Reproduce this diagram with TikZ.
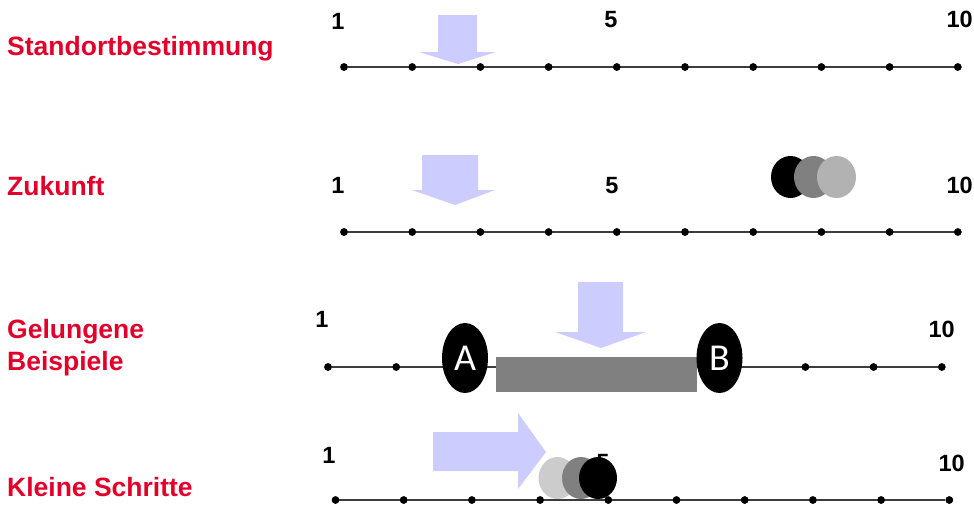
\documentclass[tikz,border=0pt]{standalone}
\usepackage{fontspec}
\setmainfont{Liberation Sans}
\newfontfamily\abfont{Carlito}
\usetikzlibrary{shapes.geometric}
\definecolor{lblred}{RGB}{226,0,43}
\definecolor{arrowblue}{RGB}{204,204,255}
\definecolor{axisgray}{RGB}{60,60,60}
\definecolor{midgray}{RGB}{128,128,128}
\definecolor{ltgray}{RGB}{178,178,178}
\definecolor{vltgray}{RGB}{204,204,204}
\tikzset{
  rowlabel/.style={anchor=base west, inner sep=0pt, text=lblred, font=\fontsize{26.5}{32}\selectfont\bfseries, align=left},
  num/.style={anchor=base, inner sep=0pt, font=\fontsize{23.5}{27}\selectfont\bfseries},
  numr/.style={num, anchor=base east},
  dot/.style={circle, fill=black, inner sep=0pt, minimum size=7.5pt},
  axis/.style={draw=axisgray, line width=1.4pt},
  bigarrow/.style={fill=arrowblue, draw=none},
  disc/.style={ellipse, inner sep=0pt, draw=none, minimum width=39pt, minimum height=42pt},
  ab/.style={ellipse, fill=black, inner sep=0pt, minimum width=46pt, minimum height=70pt, text=white, font=\abfont\fontsize{38}{40}\selectfont},
}
\begin{document}
\begin{tikzpicture}[x=1pt,y=-1pt]
\useasboundingbox (0,0) rectangle (974,509);

% ---------- Row 1 ----------
\node[rowlabel] (l1) at (7,55) {Standortbestimmung};
\node[num] (n1a) at (338,29) {1};
\node[num] (n1b) at (611,27) {5};
\node[numr] (n1c) at (973,27) {10};
\foreach \i in {0,...,9} \node[dot] (r1d\i) at ({344+68.2*\i},67) {};
\draw[axis] (r1d0) -- (r1d9);
\foreach \i in {0,...,9} \node[dot] at (r1d\i) {};
\fill[bigarrow] (438,15) -- (477,15) -- (477,52) -- (496,52) -- (458,64) -- (419,52) -- (438,52) -- cycle;

% ---------- Row 2 ----------
\node[rowlabel] (l2) at (7,195) {Zukunft};
\node[num] (n2a) at (338,193) {1};
\node[num] (n2b) at (612,193) {5};
\node[numr] (n2c) at (973,193) {10};
\foreach \i in {0,...,9} \node[dot] (r2d\i) at ({344+68.2*\i},232) {};
\draw[axis] (r2d0) -- (r2d9);
\foreach \i in {0,...,9} \node[dot] at (r2d\i) {};
\fill[bigarrow] (422,155) -- (478,155) -- (478,190) -- (495,190) -- (455,205) -- (412,190) -- (422,190) -- cycle;
\node[disc, fill=black] (c2a) at (790.5,177) {};
\node[disc, fill=midgray] (c2b) at (813.5,177) {};
\node[disc, fill=ltgray] (c2c) at (836.5,177) {};

% ---------- Row 3 ----------
\node[rowlabel] (l3) at (7,370) {Gelungene\\[0pt]Beispiele};
\node[num] (n3a) at (322,327) {1};
\node[numr] (n3c) at (955,337) {10};
\foreach \i in {0,...,9} \node[dot] (r3d\i) at ({328+68.2*\i},367) {};
\draw[axis] (r3d0) -- (r3d9);
\foreach \i in {0,...,9} \node[dot] at (r3d\i) {};
\fill[bigarrow] (578,282) -- (623,282) -- (623,332) -- (646,332) -- (601,348) -- (555,332) -- (578,332) -- cycle;
\node[fill=midgray, inner sep=0pt, minimum width=201pt, minimum height=35pt] (bar) at (596.5,374.5) {};
\node[ab] (A) at (465,358) {A};
\node[ab] (B) at (719.5,358) {B};

% ---------- Row 4 ----------
\node[rowlabel] (l4) at (7,496) {Kleine Schritte};
\node[num] (n4a) at (329,463) {1};
\node[num] (n4b) at (603,470) {5};
\node[numr] (n4c) at (965,471) {10};
\foreach \i in {0,...,9} \node[dot] (r4d\i) at ({335.5+68.2*\i},500) {};
\draw[axis] (r4d0) -- (r4d9);
\foreach \i in {0,...,9} \node[dot] at (r4d\i) {};
\fill[bigarrow] (433,432) -- (518,432) -- (518,413) -- (546,452) -- (518,489) -- (518,471) -- (433,471) -- cycle;
\node[disc, minimum width=38pt, fill=vltgray] (c4a) at (557.5,478) {};
\node[disc, minimum width=38pt, fill=midgray] (c4b) at (581,478) {};
\node[disc, minimum width=38pt, fill=black] (c4c) at (598,478) {};
\end{tikzpicture}
\end{document}
